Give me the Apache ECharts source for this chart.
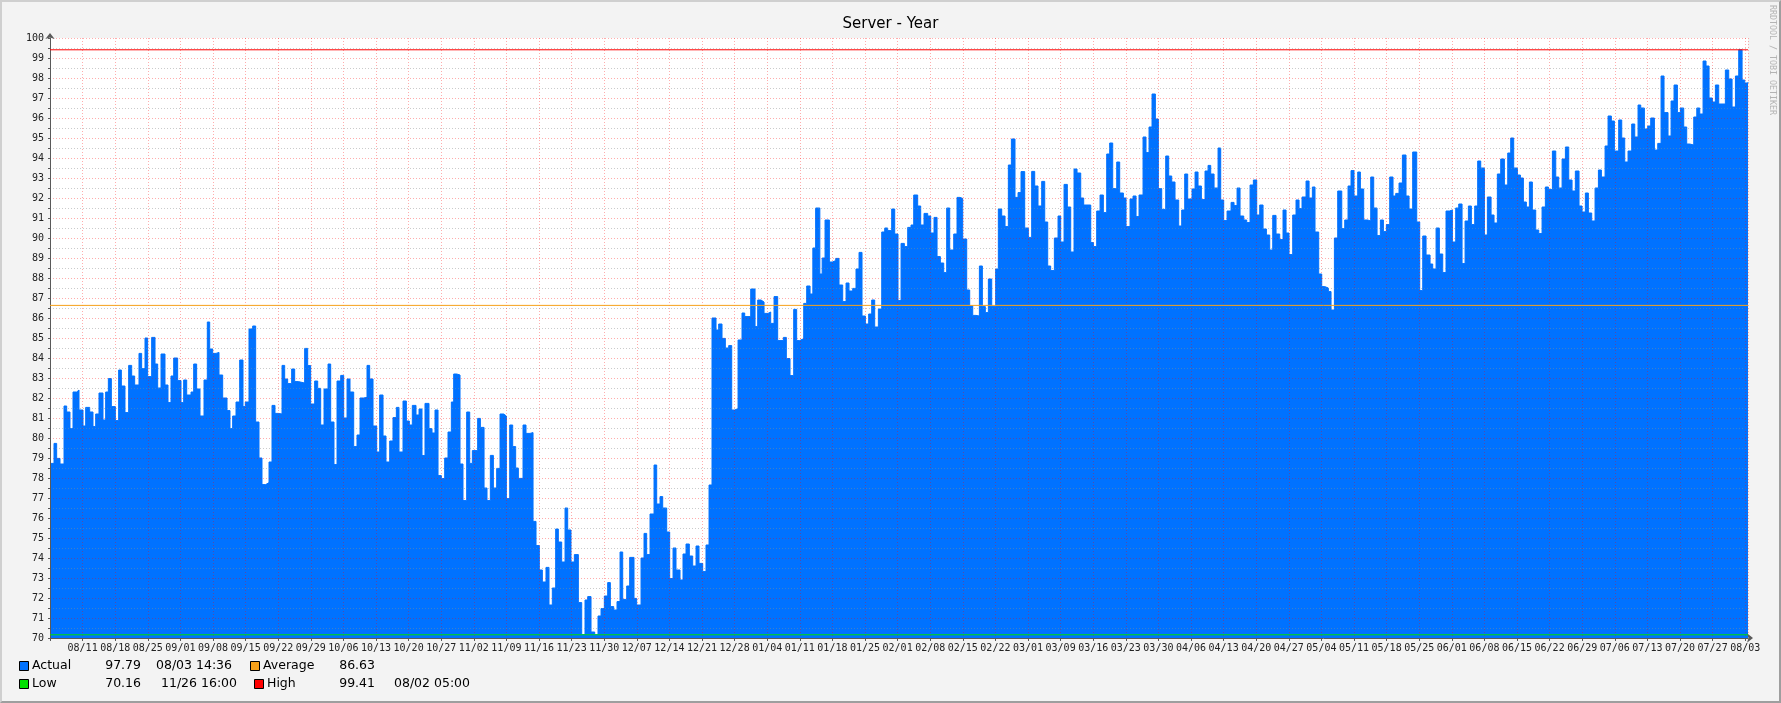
<!DOCTYPE html>
<html>
<head>
<meta charset="utf-8">
<script src="https://cdn.jsdelivr.net/npm/echarts@6/dist/echarts.min.js"></script>
<style>
  html, body { margin: 0; padding: 0; background: #f3f3f3; }
  #wrap { position: relative; width: 1781px; height: 703px; }
  #echarts-main { width: 1781px; height: 703px; }
  #shade { position: absolute; left: 0; top: 0; width: 1781px; height: 703px; box-sizing: border-box;
           border-top: 2px solid #cfcfcf; border-left: 2px solid #cfcfcf;
           border-right: 2px solid #9e9e9e; border-bottom: 2px solid #9e9e9e; pointer-events: none; }
</style>
</head>
<body>
<div id="wrap">
  <div id="echarts-main"></div>
  <div id="shade"></div>
</div>
<script>
// sample times in days since 08/04 00:00
var sampleDays = [
	0,0.86,1.43,2.15,3.01,3.58,4.29,4.94,5.73,6.23,
	7.09,7.66,8.52,9.23,9.81,10.52,11.38,11.95,12.53,13.17,
	14.03,14.74,15.32,16.1,16.89,17.54,18.18,19.11,19.68,20.4,
	20.97,21.83,22.55,23.12,23.84,24.69,25.34,25.98,26.56,27.41,
	28.13,28.7,29.35,30.28,30.85,31.49,32.21,33.07,33.78,34.29,
	34.93,35.65,36.29,37.08,38.01,38.65,39.22,39.94,40.73,41.44,
	41.94,42.73,43.52,44.16,44.88,45.52,46.31,47.03,47.67,48.31,
	49.03,49.82,50.39,51.03,51.89,52.54,53.32,54.68,55.33,55.97,
	56.83,57.48,58.12,58.84,59.7,60.27,60.98,61.63,62.42,63.06,
	63.78,64.42,65.21,65.92,66.57,67.28,68.07,68.64,69.36,70.15,
	70.79,71.51,72.15,72.94,73.65,74.37,74.94,75.8,76.52,77.16,
	77.8,78.59,79.24,79.88,80.52,81.38,82.03,82.67,83.32,
	84.03,84.75,85.46,86.18,86.68,87.33,88.04,88.68,89.47,90.12,
	90.69,91.83,92.41,93.2,93.84,94.55,95.2,95.91,96.63,97.42,
	97.99,98.71,99.35,99.99,100.57,101.57,102.21,103.07,103.72,104.36,
	105.07,105.72,106.5,107.15,107.86,108.58,109.15,109.87,110.59,111.16,
	111.87,112.59,113.45,114.17,114.88,115.46,116.17,116.96,117.67,118.32,
	119.03,119.75,120.32,121.04,121.75,122.4,122.97,123.83,124.47,125.4,
	125.97,126.91,127.55,128.12,128.84,129.7,130.27,130.99,131.56,132.42,
	133.06,133.78,134.42,135.28,135.92,136.57,137.28,138.0,138.72,139.36,
	140.15,140.86,141.51,142.15,143.01,143.58,144.3,145.01,145.73,146.38,
	147.02,147.74,148.59,149.17,150.46,151.39,151.96,152.67,153.32,154.18,
	154.75,155.47,156.25,157.47,158.11,158.9,159.69,160.33,160.98,161.84,
	162.48,163.2,163.8,164.4,165.3,165.8,
	166.42,167.35,167.99,168.71,169.42,170.21,170.93,171.57,172.36,173.07,
	173.72,174.36,175.08,175.79,176.44,177.08,177.87,178.59,179.23,179.87,
	180.73,181.38,182.09,182.74,183.45,184.17,184.88,185.46,186.31,186.96,
	187.67,188.46,189.11,189.82,190.47,191.18,191.9,192.54,193.19,194.05,
	194.76,195.4,195.98,196.84,197.48,198.13,198.84,199.56,200.2,200.84,
	201.49,202.21,203.06,203.63,204.35,205.07,205.78,206.43,207.21,207.86,
	208.5,
	209.29,210.07,210.79,211.44,212.15,212.94,213.59,214.23,214.87,215.66,
	216.45,217.02,217.74,218.45,219.17,219.88,220.53,221.32,221.96,223.47,
	224.04,224.75,225.47,226.18,226.9,227.54,228.19,229.05,229.69,230.48,
	231.05,231.91,232.55,233.2,233.84,234.7,235.34,235.99,236.63,237.35,
	237.99,238.71,239.57,240.21,240.86,241.57,242.36,243.0,243.65,244.29,
	245.22,245.87,246.51,247.23,248.01,248.66,249.23,249.95,250.81,
	251.38,252.02,252.74,253.6,254.24,254.89,255.53,256.32,256.96,257.68,
	258.39,259.11,259.75,260.47,261.19,261.9,262.55,263.26,264.05,264.76,
	265.41,266.05,266.84,267.55,268.2,268.84,269.7,270.35,271.06,271.63,
	272.42,273.07,273.71,274.5,275.07,275.79,276.5,277.37,278.01,278.72,
	279.36,280.0,280.8,281.37,282.08,282.94,283.59,284.23,284.95,285.66,
	286.31,286.95,287.67,288.38,288.96,289.67,290.39,291.17,291.82,
	292.6,293.47,294.11,294.76,295.47,296.33,296.9,297.62,298.33,299.05,
	299.76,300.48,301.12,301.84,302.49,303.2,303.85,304.56,305.2,305.92,
	306.56,307.21,308.0,308.64,309.43,310.07,310.78,311.5,312.29,313.01,
	313.65,314.29,315.08,315.73,316.37,317.01,317.66,318.3,319.02,319.67,
	320.38,321.09,321.74,322.6,323.32,323.96,324.68,325.39,326.11,326.82,
	327.53,328.32,328.97,329.68,330.32,331.04,331.76,332.48,333.12,333.91,
	334.55,
	335.26,335.91,336.84,337.49,338.13,338.84,339.63,340.28,340.99,341.57,
	342.35,343.07,343.71,344.5,345.22,345.93,346.57,347.43,348.08,348.72,
	349.44,350.08,350.8,351.44,352.09,352.95,353.6,354.24,354.95,355.59,
	356.24,356.95,357.6,358.31,359.74,360.46,361.18,361.9,362.61,363.33,
	363.9,364.6
];

var actualValues = [
	78.73,79.73,78.98,78.7,81.6,81.3,80.47,82.3,82.4,81.4,
	80.6,81.53,81.3,80.57,81.2,82.25,80.9,82.3,82.97,81.57,
	80.87,83.4,82.6,81.27,83.63,83.1,82.65,84.23,83.47,85.0,
	83.07,85.03,83.7,82.5,84.2,82.65,81.77,83.1,84.0,82.87,
	81.77,82.9,82.15,82.3,83.7,82.45,81.1,82.9,85.8,84.45,
	84.23,84.28,83.15,82.0,81.37,80.47,81.1,81.8,83.9,81.57,
	81.8,85.45,85.6,80.8,79.0,77.67,77.77,78.8,81.63,81.23,
	81.2,83.63,82.95,82.72,83.45,82.82,82.75,84.48,83.62,81.7,
	82.85,82.48,80.65,82.45,83.7,80.8,78.67,82.85,83.13,81.0,
	82.95,82.3,79.57,80.15,82.0,82.03,83.63,82.95,80.6,79.3,
	82.15,80.1,78.8,79.85,81.02,81.53,79.3,81.85,80.85,80.65,
	81.63,81.15,81.45,79.12,81.73,80.47,80.25,81.4,78.12,
	77.97,79.0,80.3,81.8,83.2,83.15,78.7,76.87,81.3,78.73,
	79.37,80.98,80.53,77.5,76.87,79.13,77.5,78.48,81.2,81.1,
	76.97,80.65,79.57,78.5,77.98,80.65,80.23,80.27,75.83,74.62,
	73.4,72.8,73.53,71.65,72.5,75.45,74.8,73.8,76.5,75.4,
	73.8,74.17,71.77,70.17,71.9,72.07,70.3,70.17,71.1,71.47,
	72.1,72.77,71.57,71.4,71.82,74.3,71.93,72.6,74.03,71.98,
	71.65,74.0,75.23,74.17,76.2,78.65,76.7,77.07,76.5,75.3,
	72.97,74.5,73.4,72.9,74.2,74.7,74.1,73.6,74.6,73.73,
	73.32,74.65,77.65,86.0,85.4,85.7,84.98,84.5,84.62,81.4,
	81.47,84.9,86.25,86.07,87.45,85.57,86.9,86.8,86.23,86.3,
	85.73,87.07,84.87,85.03,83.97,83.12,86.43,84.87,84.97,86.73,
	87.6,87.2,89.5,91.5,88.2,89.0,
	90.9,88.8,88.87,88.98,87.65,86.82,87.75,87.35,87.48,88.45,
	89.28,86.1,85.7,86.2,86.9,85.55,86.45,90.3,90.5,90.37,
	91.45,90.2,86.87,89.73,89.57,90.53,90.65,92.15,91.6,90.65,
	91.23,91.1,90.25,91.03,89.07,88.75,88.27,91.5,89.4,90.2,
	92.03,91.98,89.95,87.4,86.6,86.13,86.1,88.6,86.57,86.27,
	87.95,86.57,88.45,91.45,91.1,90.57,93.65,94.95,92.03,92.27,
	93.32,
	90.5,90.03,93.33,92.6,91.6,92.83,90.8,88.6,88.37,90.0,
	91.1,89.8,92.68,91.55,89.3,93.45,93.25,92.0,91.65,89.77,
	89.57,91.35,92.15,91.27,94.2,94.75,92.47,93.8,92.25,92.0,
	90.57,91.95,92.1,91.07,92.15,95.05,94.27,95.55,97.2,95.95,
	92.47,91.43,94.1,93.1,92.8,91.9,90.6,91.4,93.2,91.95,
	92.45,93.3,92.6,91.92,93.35,93.63,93.2,92.5,94.5,
	91.9,90.87,91.35,91.78,91.62,92.5,91.1,90.9,90.77,92.65,
	92.9,91.15,91.65,90.45,90.15,89.4,91.13,90.2,89.92,91.4,
	90.25,89.17,91.15,91.9,91.47,92.05,92.85,92.0,92.55,90.3,
	88.2,87.57,87.5,87.32,86.4,90.0,92.35,90.47,90.9,92.6,
	93.37,92.1,93.3,92.45,90.9,90.85,93.05,91.5,90.12,90.9,
	90.32,90.67,93.05,92.1,92.23,92.75,94.15,92.1,91.45,
	94.3,90.8,87.37,90.1,89.15,88.7,88.45,90.5,89.2,88.27,
	91.35,91.4,89.8,91.5,91.7,88.72,90.85,91.6,90.67,91.6,
	93.85,93.5,90.15,92.05,91.15,90.75,93.2,93.95,92.65,94.25,
	95.0,93.5,93.15,93.0,91.8,91.55,92.8,91.4,90.4,90.22,
	91.55,92.55,92.42,94.35,93.05,92.5,93.95,94.55,92.9,92.35,
	93.35,91.6,91.3,92.25,91.25,90.85,92.5,93.4,93.05,94.6,
	96.1,
	95.85,94.35,95.9,95.0,93.8,94.35,95.7,95.05,96.65,96.5,
	95.45,95.6,96.0,94.4,94.73,98.1,96.27,95.1,96.85,97.65,
	96.27,96.5,95.55,94.7,94.65,96.05,96.5,96.2,98.85,98.6,
	97.0,96.8,97.65,96.7,98.4,97.95,96.55,98.1,99.41,97.9,
	97.75,97.79
];

// weekly grid labels (7, 14, ... days after the start)
var weekLabels = [
	'08/11','08/18','08/25','09/01','09/08','09/15','09/22','09/29',
	'10/06','10/13','10/20','10/27','11/02','11/09','11/16','11/23','11/30',
	'12/07','12/14','12/21','12/28','01/04','01/11','01/18','01/25',
	'02/01','02/08','02/15','02/22','03/01','03/09','03/16','03/23','03/30',
	'04/06','04/13','04/20','04/27','05/04','05/11','05/18','05/25',
	'06/01','06/08','06/15','06/22','06/29','07/06','07/13','07/20','07/27','08/03'
];

var spanDays = 364.6;
var averageValue = 86.63;
var highValue = 99.41;
var lowValue = 70.16;

var legendNames = ['Actual', 'Average', 'Low', 'High'];
var legendValues = ['97.79', '86.63', '70.16', '99.41'];
var legendTimes = ['08/03 14:36', '', '11/26 16:00', '08/02 05:00'];

var colors = ['#0072ff', '#f7a11a', '#00e000', '#ff0000'];

var myChart = echarts.init(document.getElementById('echarts-main'));

var actualData = [];
for (var i = 0; i < sampleDays.length; i++) {
	actualData.push([sampleDays[i], actualValues[i]]);
}

function flatLine(v) {
	return [[0, v], [spanDays, v]];
}

var mono = 'DejaVu Sans Mono';
var sans = 'DejaVu Sans';

// legend rows, rrdtool style
function legendItem(col, row, k) {
	var y = row === 0 ? 666 : 684;
	var boxX = col === 0 ? 19 : (row === 0 ? 250 : 254);
	var nameX = boxX + 13;
	var valueRight = col === 0 ? 141 : 375;
	var timeX = col === 0 ? (row === 0 ? 156 : 161) : 394;
	var items = [
		{ type: 'rect', left: boxX, top: y - 5, shape: { width: 9, height: 9 },
		  style: { fill: colors[k], stroke: '#000', lineWidth: 1 } },
		{ type: 'text', x: nameX, y: y, style: { text: legendNames[k], font: '12.5px ' + sans, fill: '#000', textVerticalAlign: 'middle' } },
		{ type: 'text', x: valueRight, y: y, style: { text: legendValues[k], font: '12.5px ' + sans, fill: '#000', textAlign: 'right', textVerticalAlign: 'middle' } }
	];
	if (legendTimes[k]) {
		items.push({ type: 'text', x: timeX, y: y, style: { text: legendTimes[k], font: '12.5px ' + sans, fill: '#000', textVerticalAlign: 'middle' } });
	}
	return items;
}

var graphics = [].concat(
	legendItem(0, 0, 0), legendItem(1, 0, 1),
	legendItem(0, 1, 2), legendItem(1, 1, 3),
	[{
		type: 'text', x: 1772, y: 60, rotation: -Math.PI / 2,
		style: { text: 'RRDTOOL / TOBI OETIKER', font: '8.3px ' + mono, fill: '#b4b4b4',
		         textAlign: 'center', textVerticalAlign: 'middle' }
	}]
);

var gridMajor = { show: true, lineStyle: { color: 'rgba(255,0,0,0.32)', width: 1, type: [1, 2] } };

var option = {
	backgroundColor: '#f3f3f3',
	animation: false,
	title: {
		text: 'Server - Year',
		left: 'center',
		top: 12,
		textStyle: { fontFamily: sans, fontSize: 15, fontWeight: 'normal', color: '#000' }
	},
	grid: {
		left: 50, right: 33, top: 38, bottom: 65,
		show: true, backgroundColor: '#ffffff', borderWidth: 0
	},
	xAxis: {
		type: 'value',
		min: 0,
		max: spanDays,
		interval: 7,
		z: 3,
		axisLine: { show: true, onZero: false, symbol: ['none', 'arrow'], symbolSize: [7, 6], symbolOffset: [0, 5],
		            lineStyle: { color: '#5a5a5a', width: 1 } },
		axisTick: { show: true, length: 3, lineStyle: { color: '#5a5a5a' } },
		axisLabel: {
			margin: 5,
			fontFamily: mono, fontSize: 10, color: '#222',
			showMaxLabel: false,
			formatter: function (v) {
				var k = Math.round(v / 7);
				if (Math.abs(v - k * 7) > 1e-6 || k < 1) return '';
				return weekLabels[k - 1] || '';
			}
		},
		splitLine: gridMajor
	},
	yAxis: {
		type: 'value',
		min: 70,
		max: 100,
		interval: 1,
		z: 3,
		axisLine: { show: true, symbol: ['none', 'arrow'], symbolSize: [7, 6], symbolOffset: [0, 5],
		            lineStyle: { color: '#5a5a5a', width: 1 } },
		axisTick: { show: true, length: 2, lineStyle: { color: '#5a5a5a' } },
		minorTick: { show: true, splitNumber: 2, length: 2, lineStyle: { color: '#5a5a5a' } },
		axisLabel: { margin: 6, fontFamily: mono, fontSize: 10, color: '#222' },
		splitLine: gridMajor,
		minorSplitLine: { show: true, lineStyle: { color: 'rgba(140,140,140,0.45)', width: 1, type: [1, 2] } }
	},
	graphic: graphics,
	series: [
		{
			name: 'Actual',
			type: 'line',
			data: actualData,
			step: 'end',
			symbol: 'none',
			z: 2,
			silent: true,
			lineStyle: { color: colors[0], width: 1 },
			areaStyle: { color: colors[0], opacity: 1 }
		},
		{
			name: 'Average', type: 'line', data: flatLine(averageValue), symbol: 'none', z: 4, silent: true,
			lineStyle: { color: colors[1], width: 1 }
		},
		{
			name: 'Low', type: 'line', data: flatLine(lowValue), symbol: 'none', z: 4, silent: true,
			lineStyle: { color: colors[2], width: 1 }
		},
		{
			name: 'High', type: 'line', data: flatLine(highValue), symbol: 'none', z: 4, silent: true,
			lineStyle: { color: colors[3], width: 1 }
		}
	]
};

myChart.setOption(option);
</script>
</body>
</html>
